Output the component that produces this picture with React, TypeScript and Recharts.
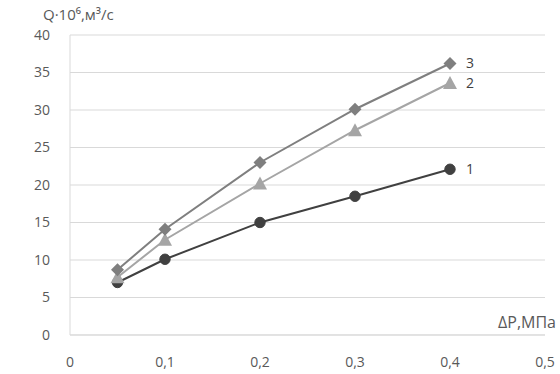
import React from "react";
import { LineChart, Line, XAxis, YAxis, CartesianGrid } from "recharts";

const pressure = [0.05, 0.1, 0.2, 0.3, 0.4];
const flow1 = [7.0, 10.1, 15.0, 18.5, 22.1];
const flow2 = [7.7, 12.7, 20.2, 27.3, 33.6];
const flow3 = [8.7, 14.1, 23.0, 30.1, 36.2];
const seriesNames = ["1", "2", "3"];
const xTicks = [0, 0.1, 0.2, 0.3, 0.4, 0.5];
const yTicks = [0, 5, 10, 15, 20, 25, 30, 35, 40];
const yTitle = "Q·10⁶,м³/с";
const xTitle = "ΔP,МПа";

const data = pressure.map((p, i) => ({ p, s1: flow1[i], s2: flow2[i], s3: flow3[i] }));

const FONT = "'Open Sans', 'Noto Sans', sans-serif";
const TICK_COLOR = "#595959";

const Circle = (props: any) => {
  const { cx, cy, key } = props;
  return <circle key={key} cx={cx} cy={cy} r={5.2} fill="#404040" stroke="#404040" />;
};
const Triangle = (props: any) => {
  const { cx, cy, key } = props;
  const s = 7;
  return (
    <path
      key={key}
      d={`M${cx},${cy - s} L${cx + s},${cy + s * 0.85} L${cx - s},${cy + s * 0.85} Z`}
      fill="#a5a5a5"
    />
  );
};
const Diamond = (props: any) => {
  const { cx, cy, key } = props;
  const s = 6.5;
  return (
    <path
      key={key}
      d={`M${cx},${cy - s} L${cx + s},${cy} L${cx},${cy + s} L${cx - s},${cy} Z`}
      fill="#7f7f7f"
    />
  );
};

const endLabel = (name: string) => (props: any) => {
  const { x, y, index } = props;
  if (index !== pressure.length - 1) return null;
  return (
    <text
      key={`lbl-${name}`}
      x={x + 16}
      y={y}
      dy="0.35em"
      fontSize={14}
      fontFamily={FONT}
      fill="#404040"
    >
      {name}
    </text>
  );
};

export default function App() {
  return (
    <div style={{ position: "absolute", left: 0, top: 0, background: "#fff" }}>
      <LineChart
        width={560}
        height={374}
        data={data}
        margin={{ top: 35, right: 15, bottom: 0, left: 10 }}
      >
        <CartesianGrid vertical={false} stroke="#d9d9d9" strokeWidth={1} />
        <XAxis
          dataKey="p"
          type="number"
          domain={[0, 0.5]}
          ticks={xTicks}
          tickFormatter={(v: number) => String(v).replace(".", ",")}
          tickLine={false}
          axisLine={{ stroke: "#d9d9d9" }}
          tickMargin={16}
          height={39}
          tick={{ fontSize: 14, fill: TICK_COLOR, fontFamily: FONT }}
          label={(props: any) => {
            const vb = props.viewBox;
            return (
              <text
                x={vb.x + vb.width - 47}
                y={vb.y - 7}
                fontSize={16}
                fontFamily={FONT}
                fill={TICK_COLOR}
              >
                {xTitle}
              </text>
            );
          }}
        />
        <YAxis
          type="number"
          domain={[0, 40]}
          ticks={yTicks}
          tickLine={false}
          axisLine={{ stroke: "#d9d9d9" }}
          tickMargin={14}
          width={60}
          tick={{ fontSize: 14, fill: TICK_COLOR, fontFamily: FONT }}
          label={(props: any) => {
            const vb = props.viewBox;
            return (
              <text
                x={vb.x + 33}
                y={vb.y - 15}
                fontSize={15}
                fontFamily={FONT}
                fill={TICK_COLOR}
              >
                {yTitle}
              </text>
            );
          }}
        />
        <Line
          dataKey="s1"
          name={seriesNames[0]}
          stroke="#404040"
          strokeWidth={2}
          dot={Circle}
          activeDot={false}
          isAnimationActive={false}
          label={endLabel(seriesNames[0])}
        />
        <Line
          dataKey="s2"
          name={seriesNames[1]}
          stroke="#a5a5a5"
          strokeWidth={2}
          dot={Triangle}
          activeDot={false}
          isAnimationActive={false}
          label={endLabel(seriesNames[1])}
        />
        <Line
          dataKey="s3"
          name={seriesNames[2]}
          stroke="#7f7f7f"
          strokeWidth={2}
          dot={Diamond}
          activeDot={false}
          isAnimationActive={false}
          label={endLabel(seriesNames[2])}
        />
      </LineChart>
    </div>
  );
}
